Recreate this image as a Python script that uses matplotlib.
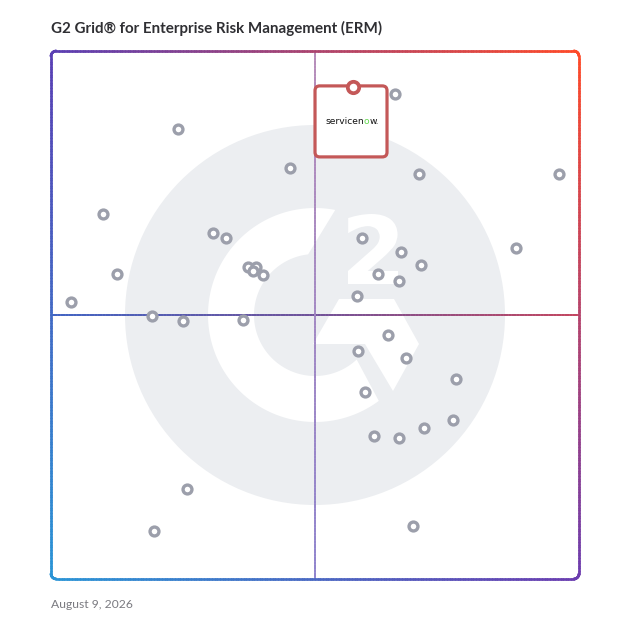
import matplotlib
matplotlib.use("Agg")
import matplotlib.pyplot as plt
import numpy as np
from matplotlib.collections import LineCollection
from matplotlib.patches import Circle, Polygon, FancyBboxPatch, PathPatch
from matplotlib.textpath import TextPath
from matplotlib.font_manager import FontProperties
from matplotlib.transforms import Affine2D
from matplotlib.colors import to_rgb

# satisfaction (x) and market presence (y) scores, 0-100 grid
sat_x = [65.2, 24.1, 45.3, 69.7, 96.2, 9.8, 30.7, 33.1, 58.9, 66.3, 88.1, 70.1,
         37.3, 38.8, 38.3, 40.2, 12.5, 61.9, 65.9, 3.8, 58.0, 19.1, 25.0, 36.4,
         63.8, 58.1, 67.2, 76.7, 59.5, 76.1, 70.6, 61.2, 65.9, 25.8, 19.5, 68.6]
presence_y = [91.9, 85.2, 77.8, 76.7, 76.7, 69.1, 65.5, 64.6, 64.6, 61.9, 62.7, 59.5,
              59.1, 59.1, 58.3, 57.6, 57.8, 57.8, 56.4, 52.5, 53.6, 49.8, 48.9, 49.1,
              46.2, 43.2, 41.9, 37.9, 35.4, 30.1, 28.6, 27.1, 26.7, 17.0, 9.1, 10.0]
highlight_name = "servicenow"
highlight_x = 57.2
highlight_y = 93.2

title = "G2 Grid\u00ae for Enterprise Risk Management (ERM)"
date_label = "August 9, 2026"

W = 628
s = 100 / 528.0  # data units per pixel

fig = plt.figure(figsize=(6.28, 6.28), dpi=100)
ax = fig.add_axes([51 / W, 49 / W, 528 / W, 528 / W])
ax.set_xlim(0, 100)
ax.set_ylim(0, 100)
ax.axis("off")

# ---- G2 watermark ----
logo_gray = "#eceef1"
cx, cy = 50, 50
ax.add_patch(Circle((cx, cy), 190 * s, color=logo_gray, lw=0, zorder=0))
r_in, r_out = 61 * s, 107 * s
t_out = np.radians(np.linspace(79.1, 306.6, 120))
t_in = np.radians(np.linspace(313.1, 96.5, 120))
ring = np.vstack([np.c_[cx + r_out * np.cos(t_out), cy + r_out * np.sin(t_out)],
                  np.c_[cx + r_in * np.cos(t_in), cy + r_in * np.sin(t_in)]])
ax.add_patch(Polygon(ring, closed=True, color="white", lw=0, zorder=0.5))
chev = np.array([(24, 16), (79, 16), (104, -29), (78, -76), (50, -29), (-2, -29)]) * s
chev = chev + [cx, cy]
ax.add_patch(Polygon(chev, closed=True, color="white", lw=0, zorder=0.5))
# the "2", stretched into its box
tp = TextPath((0, 0), "2", size=1, prop=FontProperties(family="DejaVu Sans", weight="bold"))
ext = tp.get_extents()
x0, x1 = cx + 33 * s, cx + 83 * s
y0, y1 = cy + 31 * s, cy + 101 * s
tr = (Affine2D().translate(-ext.x0, -ext.y0)
      .scale((x1 - x0) / ext.width, (y1 - y0) / ext.height)
      .translate(x0, y0))
ax.add_patch(PathPatch(tr.transform_path(tp), color="white", lw=0, zorder=0.6))


def grad_line(pts, cols, lw, z):
    pts = np.asarray(pts)
    segs = np.stack([pts[:-1], pts[1:]], axis=1)
    lc = LineCollection(segs, colors=cols, linewidths=lw, zorder=z,
                        capstyle="round", clip_on=False)
    ax.add_collection(lc)


def mix(c1, c2, t):
    a, b = np.array(to_rgb(c1)), np.array(to_rgb(c2))
    return a + (b - a) * t


# ---- quadrant lines ----
n = 200
u = np.linspace(0, 1, n)
hcols = [mix("#3b5fc2", "#6c4c96", t * 2) if t < 0.5 else mix("#6c4c96", "#c2405a", t * 2 - 1)
         for t in u[:-1]]
grad_line(np.c_[u * 100, np.full(n, 50)], hcols, 1.3, 1)
vcols = [mix("#b58ab8", "#8c80cc", t) for t in u[:-1]]
grad_line(np.c_[np.full(n, 50), 100 - u * 100], vcols, 1.3, 1)

# ---- gradient border with rounded corners ----
rc = 1.0
corners = [((100 - rc, 100 - rc), 0, 90), ((rc, 100 - rc), 90, 180),
           ((rc, rc), 180, 270), ((100 - rc, rc), 270, 360)]
bpts = []
for (ccx, ccy), a0, a1 in corners:
    th = np.radians(np.linspace(a0, a1, 12))
    bpts.append(np.c_[ccx + rc * np.cos(th), ccy + rc * np.sin(th)])
bpts = np.vstack(bpts + [bpts[0][:1]])
dense = []
for p, q in zip(bpts[:-1], bpts[1:]):
    k = max(2, int(np.hypot(*(q - p)) * 2))
    dense.append(np.linspace(p, q, k, endpoint=False))
dense = np.vstack(dense + [bpts[-1:]])
TL, TR, BL, BR = "#5a3fb4", "#ff4a28", "#2a95d6", "#6b3db0"
bcols = []
for p, q in zip(dense[:-1], dense[1:]):
    m = (p + q) / 200.0
    top = mix(TL, TR, m[0])
    bot = mix(BL, BR, m[0])
    bcols.append(bot + (top - bot) * m[1])
grad_line(dense, bcols, 1.9, 2)

# ---- vendors ----
ax.plot(sat_x, presence_y, "o", ms=6.4, mfc="white", mec="#9c9fab", mew=2.4,
        zorder=3, clip_on=False)

# highlighted vendor card
bw, bh = 72 * s, 71 * s
box = FancyBboxPatch((highlight_x - 38 * s, highlight_y - bh + 1 * s), bw, bh,
                     boxstyle="round,pad=0,rounding_size=0.9", fc="white",
                     ec="#c45858", lw=2.3, zorder=4)
ax.add_patch(box)
ax.plot([highlight_x], [highlight_y], "o", ms=8.2, mfc="white", mec="#c45858",
        mew=2.7, zorder=5)
t1 = ax.text(highlight_x - 28 * s, highlight_y - 35 * s, highlight_name[:-2],
             fontsize=6.6, color="#111111", family="DejaVu Sans", ha="left",
             va="center", zorder=6)
t2 = ax.annotate("o", xy=(1, 0), xycoords=t1, va="bottom", ha="left",
                 fontsize=6.6, color="#62d84e", family="DejaVu Sans", zorder=6)
ax.annotate("w.", xy=(1, 0), xycoords=t2, va="bottom", ha="left",
            fontsize=6.6, color="#111111", family="DejaVu Sans", zorder=6)

fig.text(51 / W, 1 - 28 / W, title, fontsize=10.9, fontweight="bold",
         color="#2f2f33", family="Lato", ha="left", va="center")
fig.text(51 / W, 1 - 604 / W, date_label, fontsize=8.7, color="#7a7a80",
         family="Lato", ha="left", va="center")

fig.savefig("out.png", dpi=100)
